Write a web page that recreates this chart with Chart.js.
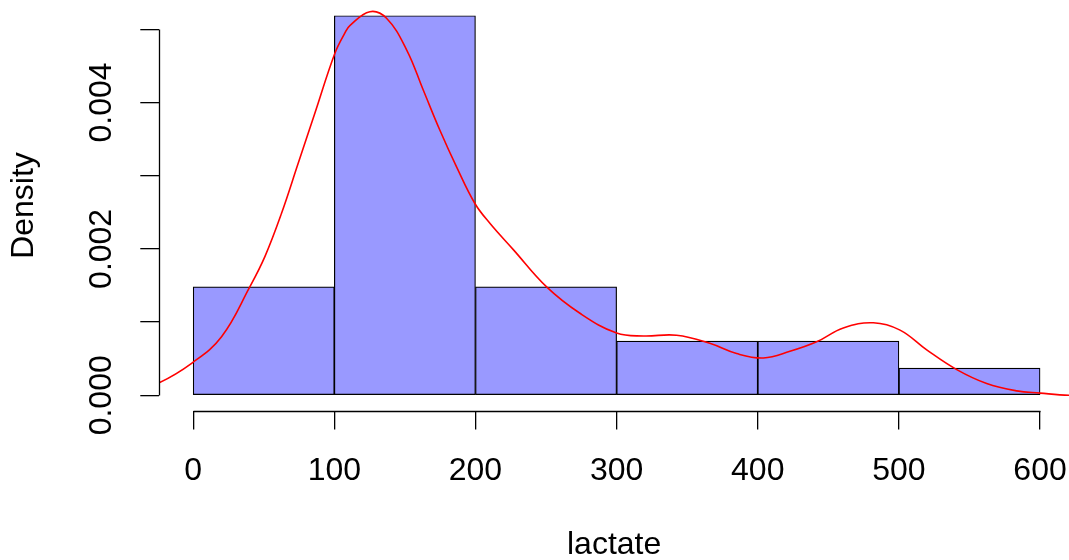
<!DOCTYPE html>
<html>
<head>
<meta charset="utf-8">
<script src="https://cdn.jsdelivr.net/npm/chart.js@4.4.1/dist/chart.umd.min.js"></script>
<style>
  html, body { margin: 0; padding: 0; background: #ffffff; }
  #wrap { width: 1069px; height: 560px; position: relative; }
</style>
</head>
<body>
<div id="wrap"><canvas id="c"></canvas></div>
<script>
// ---- data ----
const binMids = [50, 150, 250, 350, 450, 550];
const binDensity = [0.001481, 0.005185, 0.001481, 0.000741, 0.000741, 0.000370];

const densityX = [-40, -24.8, -1.1, 20.1, 40.2, 50.8, 62.6, 74.4, 86.2, 100.4, 107.5, 111, 125.2, 137, 151.2, 163, 174.8, 186.6, 199.6, 210.2, 226.8, 250.4, 274, 300, 319, 342.5, 366, 385, 404, 422.8, 441.7, 460.6, 481.9, 500.8, 519.7, 541, 562.2, 583.5, 600, 620.5, 640];
const densityY = [0.00008, 0.000164, 0.000437, 0.00080, 0.001484, 0.001894, 0.002486, 0.003169, 0.003852, 0.004672, 0.00495, 0.00505, 0.00524, 0.00515, 0.00472, 0.00417, 0.00362, 0.00312, 0.00262, 0.00235, 0.00199, 0.00148, 0.00112, 0.00085, 0.00081, 0.00082, 0.00071, 0.00057, 0.00051, 0.00060, 0.00073, 0.00092, 0.00099, 0.00089, 0.00062, 0.00035, 0.00016, 0.00006, 0.00003, 0.0, 0.0];

const xTicks = [0, 100, 200, 300, 400, 500, 600];
const xTickLabels = ['0', '100', '200', '300', '400', '500', '600'];
const yTicks = [0, 0.001, 0.002, 0.003, 0.004, 0.005];
const yTickLabels = ['0.000', '', '0.002', '', '0.004', ''];
const xRange = [-24, 620.5];
const yRange = [-0.000208, 0.005393];
const xTitle = 'lactate';
const yTitle = 'Density';

// ---- chart ----
const FONT = '"Liberation Sans", Arial, Helvetica, sans-serif';

const rAxes = {
  id: 'rAxes',
  afterDraw(chart) {
    const { ctx, scales: { x, y }, chartArea } = chart;
    ctx.save();
    ctx.strokeStyle = '#000';
    ctx.lineWidth = 1.3;
    ctx.beginPath();
    const yb = Math.round(chartArea.bottom) + 0.5;
    ctx.moveTo(Math.round(x.getPixelForValue(xTicks[0])) + 0.5, yb);
    ctx.lineTo(Math.round(x.getPixelForValue(xTicks[xTicks.length - 1])) + 0.5, yb);
    const xl = Math.round(chartArea.left) + 0.5;
    ctx.moveTo(xl, Math.round(y.getPixelForValue(yTicks[0])) + 0.5);
    ctx.lineTo(xl, Math.round(y.getPixelForValue(yTicks[yTicks.length - 1])) + 0.5);
    ctx.stroke();
    ctx.restore();
  }
};

new Chart(document.getElementById('c'), {
  type: 'bar',
  data: {
    datasets: [
      {
        type: 'line',
        order: 0,
        data: densityX.map((v, i) => ({ x: v, y: densityY[i] })),
        borderColor: '#ff0000',
        borderWidth: 1.6,
        pointRadius: 0,
        fill: false,
        tension: 0.4
      },
      {
        type: 'bar',
        order: 1,
        data: binMids.map((v, i) => ({ x: v, y: binDensity[i] })),
        backgroundColor: '#9999ff',
        borderColor: '#000000',
        borderWidth: 1.2,
        borderSkipped: false,
        barPercentage: 1,
        categoryPercentage: 1
      }
    ]
  },
  options: {
    responsive: true,
    maintainAspectRatio: false,
    animation: false,
    events: [],
    layout: { padding: { top: 0.5, left: 0, right: 0, bottom: 0 } },
    plugins: { legend: { display: false }, tooltip: { enabled: false }, title: { display: false } },
    scales: {
      x: {
        type: 'linear',
        position: 'bottom',
        offset: false,
        min: xRange[0],
        max: xRange[1],
        afterBuildTicks: s => { s.ticks = xTicks.map(v => ({ value: v })); },
        afterFit: s => { s.height = 149.5; s.paddingLeft = 0; s.paddingRight = 0; },
        grid: { display: true, offset: false, drawOnChartArea: false, drawTicks: true, tickLength: 19, color: '#000', lineWidth: 1.3 },
        border: { display: false },
        ticks: {
          autoSkip: false,
          maxRotation: 0,
          minRotation: 0,
          padding: 22,
          color: '#000',
          font: { family: FONT, size: 32 },
          callback: (v, i) => xTickLabels[i]
        },
        title: {
          display: true,
          text: xTitle,
          color: '#000',
          font: { family: FONT, size: 32, lineHeight: 0.9 },
          padding: 0
        }
      },
      y: {
        type: 'linear',
        position: 'left',
        min: yRange[0],
        max: yRange[1],
        afterBuildTicks: s => { s.ticks = yTicks.map(v => ({ value: v })); },
        afterFit: s => { s.width = 159.3; s.paddingTop = 0; s.paddingBottom = 0; },
        grid: { display: true, drawOnChartArea: false, drawTicks: true, tickLength: 19, color: '#000', lineWidth: 1.3 },
        border: { display: false },
        ticks: {
          autoSkip: false,
          minRotation: 90,
          maxRotation: 90,
          crossAlign: 'center',
          padding: -1.6,
          color: '#000',
          font: { family: FONT, size: 32 },
          callback: (v, i) => yTickLabels[i]
        },
        title: {
          display: true,
          text: yTitle,
          color: '#000',
          font: { family: FONT, size: 32 },
          padding: { top: 4.7, bottom: 0 }
        }
      }
    }
  },
  plugins: [rAxes]
});
</script>
</body>
</html>
